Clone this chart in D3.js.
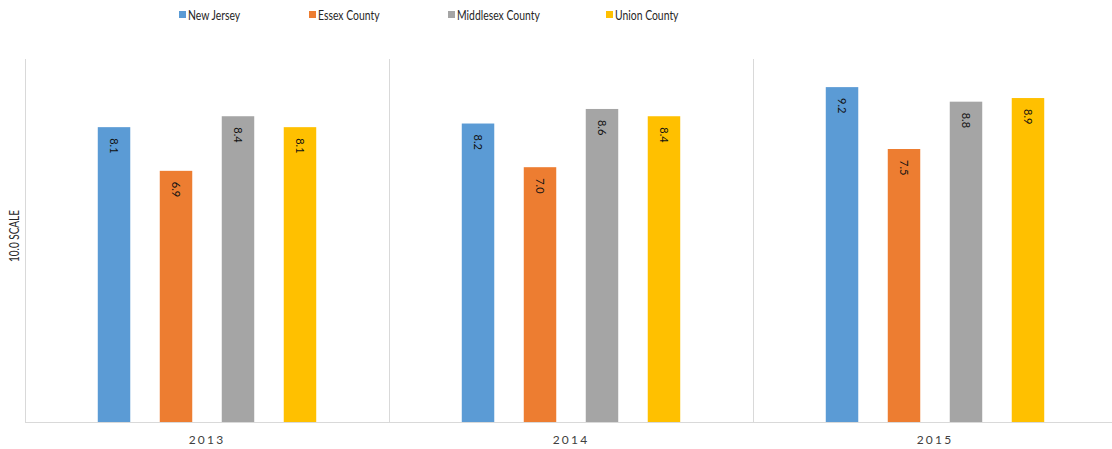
<!DOCTYPE html>
<html>
<head>
<meta charset="utf-8">
<script src="https://cdn.jsdelivr.net/npm/d3@7"></script>
<style>
  html, body { margin: 0; padding: 0; background: #fff; }
  svg { display: block; font-family: Lato, "Open Sans", sans-serif; }
</style>
</head>
<body>
<svg id="chart" width="1112" height="449"></svg>
<script>
// Survey scores by year, on a 10-point scale
const years = ["2013", "2014", "2015"];
const seriesNames = ["New Jersey", "Essex County", "Middlesex County", "Union County"];
const seriesColors = ["#5b9bd5", "#ed7d31", "#a5a5a5", "#ffc000"];
const newJersey = [8.1, 8.2, 9.2];
const essexCounty = [6.9, 7.0, 7.5];
const middlesexCounty = [8.4, 8.6, 8.8];
const unionCounty = [8.1, 8.4, 8.9];
const yDomain = [0, 10];
const yTitle = "10.0 SCALE";

const seriesValues = [newJersey, essexCounty, middlesexCounty, unionCounty];

const svg = d3.select("#chart");
const margin = { left: 25, top: 58, bottom: 422 };
const plotRight = 25 + 364 * 3;
// horizontal squeeze giving a condensed text face
const condense = 0.8;

const x0 = d3.scaleBand().domain(years).range([margin.left, plotRight]).paddingInner(0).paddingOuter(0);
const x1 = d3.scaleBand().domain(seriesNames).range([0, x0.bandwidth()]).paddingInner(0.476).paddingOuter(1.174);
const y = d3.scaleLinear().domain(yDomain).range([margin.bottom, margin.top]);

const gridColor = "#d9d9d9";

// category separators
svg.append("g").selectAll("line")
  .data(years)
  .join("line")
  .attr("x1", d => Math.round(x0(d)) + 0.5)
  .attr("x2", d => Math.round(x0(d)) + 0.5)
  .attr("y1", y(yDomain[1]) + 1)
  .attr("y2", margin.bottom)
  .attr("stroke", gridColor)
  .attr("stroke-width", 1);

// bars
const groups = svg.append("g").selectAll("g")
  .data(years)
  .join("g")
  .attr("transform", d => `translate(${x0(d)},0)`);

groups.selectAll("rect")
  .data((yr, i) => seriesNames.map((s, k) => ({ s, k, v: seriesValues[k][i] })))
  .join("rect")
  .attr("x", d => x1(d.s))
  .attr("width", x1.bandwidth())
  .attr("y", d => y(d.v))
  .attr("height", d => y(0) - y(d.v))
  .attr("fill", d => seriesColors[d.k]);

// value labels, rotated inside the top of each bar
groups.selectAll("text")
  .data((yr, i) => seriesNames.map((s, k) => ({ s, k, v: seriesValues[k][i] })))
  .join("text")
  .attr("transform", d => `translate(${x1(d.s) + x1.bandwidth() / 2},${y(d.v) + 11}) rotate(90) scale(0.92,1)`)
  .attr("dy", "0.35em")
  .attr("text-anchor", "start")
  .attr("font-size", 12)
  .attr("fill", "#111")
  .text(d => d.v.toFixed(1));

// x axis baseline
svg.append("line")
  .attr("x1", margin.left).attr("x2", 1112)
  .attr("y1", margin.bottom + 0.5).attr("y2", margin.bottom + 0.5)
  .attr("stroke", gridColor).attr("stroke-width", 1.2);

// year labels
svg.append("g").selectAll("text")
  .data(years)
  .join("text")
  .attr("x", d => x0(d) + x0.bandwidth() / 2)
  .attr("y", 444)
  .attr("text-anchor", "middle")
  .attr("font-size", 12)
  .attr("letter-spacing", 2.2)
  .attr("fill", "#404040")
  .text(d => d);

// y axis title
svg.append("text")
  .attr("transform", `translate(19,${(margin.top + margin.bottom) / 2 - 4}) rotate(-90) scale(${condense},1)`)
  .attr("text-anchor", "middle")
  .attr("font-size", 12.5)
  .attr("fill", "#262626")
  .text(yTitle);

// legend
const legendX = [179, 309, 448, 606];
const legend = svg.append("g").selectAll("g")
  .data(seriesNames)
  .join("g")
  .attr("transform", (d, i) => `translate(${legendX[i]},15)`);
legend.append("rect")
  .attr("x", 0).attr("y", -4).attr("width", 7).attr("height", 7)
  .attr("fill", (d, i) => seriesColors[i]);
legend.append("text")
  .attr("transform", `translate(9,0) scale(${condense},1)`)
  .attr("dy", "0.35em")
  .attr("font-size", 13)
  .attr("fill", "#262626")
  .text(d => d);
</script>
</body>
</html>
